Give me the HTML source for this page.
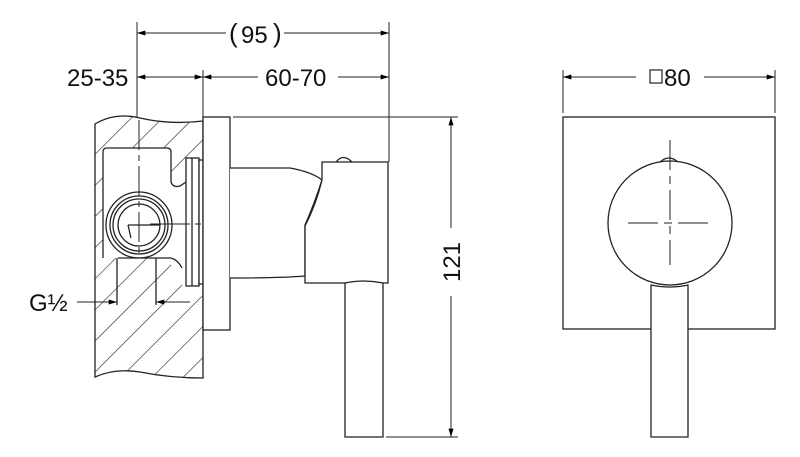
<!DOCTYPE html>
<html><head><style>html,body{margin:0;padding:0;background:#fff}svg{display:block}</style></head><body>
<svg width="800" height="457" viewBox="0 0 800 457" xmlns="http://www.w3.org/2000/svg" font-family="Liberation Sans, sans-serif">
<defs>
<pattern id="h" patternUnits="userSpaceOnUse" width="22" height="22" patternTransform="rotate(45)">
<line x1="0" y1="0" x2="0" y2="22" stroke="#222" stroke-width="1.2"/>
</pattern>
<marker id="a" viewBox="0 0 10 6" refX="10" refY="3" markerWidth="14" markerHeight="5" orient="auto-start-reverse" markerUnits="userSpaceOnUse"><path d="M0,0L10,3L0,6z" fill="#000"/></marker>
</defs>
<g stroke="#222" stroke-width="1.3" fill="none">
<path d="M95,124 Q115,112 140,118 Q170,125 203,121 L203,378 Q170,378 140,372 Q115,368 95,377 Z" fill="url(#h)" stroke="#222"/>
<path d="M103,152 Q103,148 107,148 L167,148 Q171,148 171,152 L171,182 Q173,188 180,186 L190,180 L190,285 L180,285 Q174,283 170,258 L103,258 Z" fill="#fff" stroke="none"/>
<path d="M103,258 L103,152 Q103,148 107,148 L167,148 Q171,148 171,152 L171,182 Q173,188 180,186 L186,182"/>
<path d="M171,258 L118,258"/>
<path d="M171,258 Q178,260 182,268"/>
<rect x="186" y="158" width="13" height="128" fill="#fff"/>
<line x1="192" y1="158" x2="192" y2="286"/>
<rect x="199" y="160" width="4" height="124" fill="#fff"/>
<circle cx="139" cy="225" r="33" fill="#fff"/>
<circle cx="139" cy="225" r="29"/>
<circle cx="139" cy="225" r="26"/>
<circle cx="139" cy="225" r="21"/>
<path d="M128,225 L160,225 M128,225 L131,238"/>
<line x1="117" y1="258" x2="117" y2="305"/>
<line x1="156" y1="258" x2="156" y2="305"/>
<path d="M139,120 V255" stroke-dasharray="30 5 6 5" stroke-width="1"/>
<path d="M150,224 H330" stroke-dasharray="40 5 6 5" stroke-width="1"/>
<rect x="203" y="117" width="27" height="213" fill="#fff"/>
<path d="M230,168 L290,168 Q312,172 322,180 Q314,205 305,225 L305,276 Q280,278 230,278" fill="#fff"/>
<path d="M322,162 L388,162 L388,283 L305,283 L305,226 Q316,205 322,180 Z" fill="#fff"/>
<path d="M336,162 Q343,153 352,162" />
<path d="M345,283 Q364,279 383,283 L383,437 L345,437 Z" fill="#fff"/>
<line x1="137" y1="22" x2="137" y2="118" stroke-width="1"/>
<line x1="389" y1="22" x2="389" y2="162" stroke-width="1"/>
<line x1="203" y1="70" x2="203" y2="117" stroke-width="1"/>
<line x1="233" y1="117" x2="458" y2="117" stroke-width="1"/>
<line x1="386" y1="437" x2="458" y2="437" stroke-width="1"/>
<g stroke-width="1">
<line x1="137" y1="33" x2="226" y2="33" marker-start="url(#a)"/>
<line x1="284" y1="33" x2="389" y2="33" marker-end="url(#a)"/>
<line x1="137" y1="77" x2="203" y2="77" marker-start="url(#a)" marker-end="url(#a)"/>
<line x1="203" y1="77" x2="258" y2="77" marker-start="url(#a)"/>
<line x1="338" y1="77" x2="389" y2="77" marker-end="url(#a)"/>
<line x1="451" y1="117" x2="451" y2="228" marker-start="url(#a)"/>
<line x1="451" y1="296" x2="451" y2="437" marker-end="url(#a)"/>
<line x1="77" y1="302" x2="117" y2="302" marker-end="url(#a)"/>
<line x1="190" y1="302" x2="156" y2="302" marker-end="url(#a)"/>
<line x1="563" y1="70" x2="563" y2="113"/>
<line x1="775" y1="70" x2="775" y2="113"/>
<line x1="563" y1="77" x2="636" y2="77" marker-start="url(#a)"/>
<line x1="704" y1="77" x2="775" y2="77" marker-end="url(#a)"/>
</g>
<rect x="563" y="117" width="212" height="212" fill="#fff"/>
<circle cx="670" cy="223" r="62" fill="#fff"/>
<path d="M660,162 Q669,154 678,162"/>
<path d="M670,140 V265 M628,223 H711" stroke-dasharray="30 6 8 6" stroke-width="1"/>
<path d="M651,285 Q670,289 688,285 L688,437 L651,437 Z" fill="#fff"/>
<rect x="650" y="70" width="12" height="13" stroke-width="1.2"/>
</g>
<g font-size="24" fill="#111">
<text x="229" y="42" font-size="26">(</text>
<text x="241" y="43">95</text>
<text x="273" y="42" font-size="26">)</text>
<text x="67" y="86">25-35</text>
<text x="265" y="86">60-70</text>
<text x="29" y="311">G½</text>
<text x="664" y="86">80</text>
<text transform="translate(460,262) rotate(-90)" x="0" y="0" text-anchor="middle">121</text>
</g>
</svg>
</body></html>
